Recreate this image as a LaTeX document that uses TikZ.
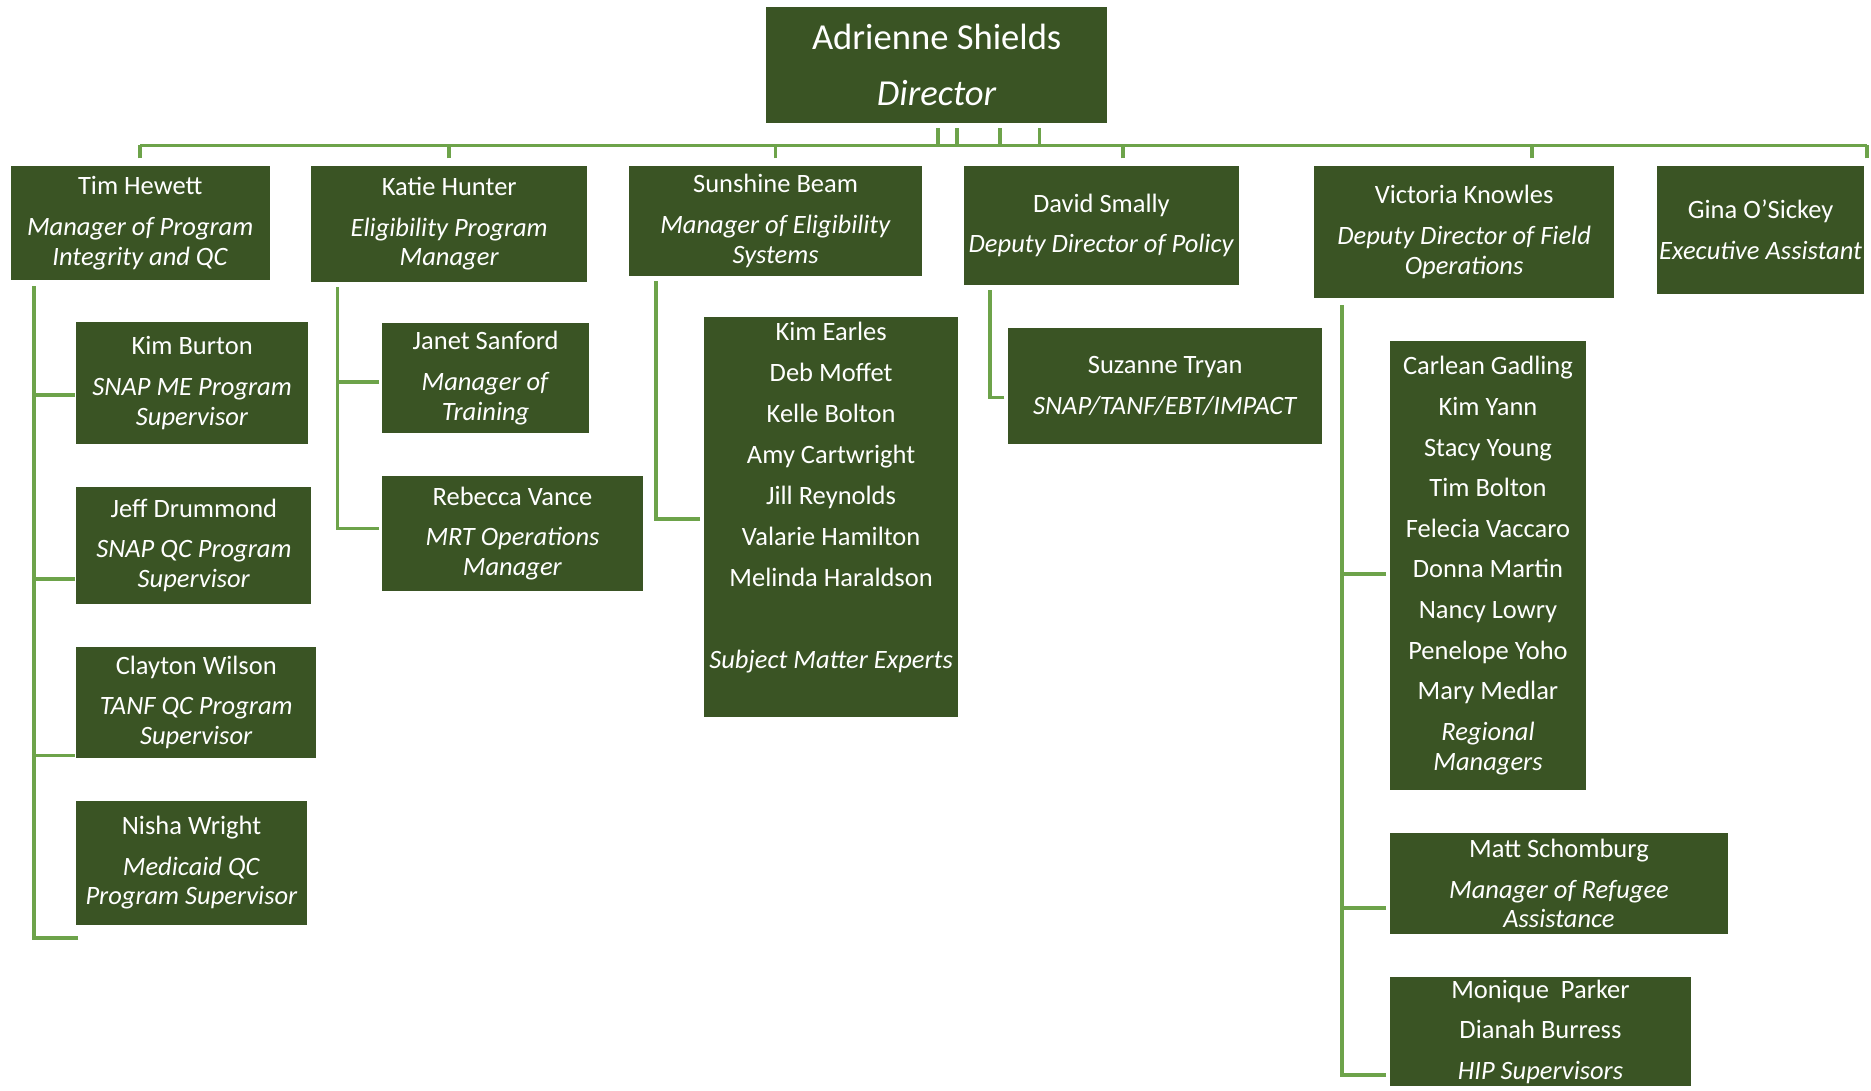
\documentclass[tikz,border=0pt]{standalone}
\usepackage{fontspec}
\setmainfont{Carlito}
\usepackage{tikz}
\definecolor{boxgreen}{HTML}{3A5424}
\definecolor{linkgreen}{HTML}{6DA34A}
\newlength{\pxu}
\setlength{\pxu}{0.5966pt}

\tikzset{
    unit/.style={fill=boxgreen, text=white, inner sep=0pt, align=center,
        font=\fontsize{13.25}{14.9}\selectfont},
    boxsize/.style 2 args={minimum width=#1\pxu, minimum height=#2\pxu},
    link/.style={draw=linkgreen, line width=3\pxu}
}

\begin{document}
\begin{tikzpicture}[x=0.5966pt, y=-0.5966pt]
    \useasboundingbox (0,0) rectangle (1568,914);

    % top
    \node[unit, boxsize={286}{97}, font=\fontsize{18.3}{28}\selectfont] (director) at (785,54.5) {Adrienne Shields\\\textit{Director}};

    % first row
    \node[unit, boxsize={217}{96}] (hewett) at (117.5,187) {Tim Hewett\\[5.4pt]\textit{Manager of Program}\\\textit{Integrity and QC}};
    \node[unit, boxsize={231}{97}] (hunter) at (376.5,187.5) {Katie Hunter\\[5.4pt]\textit{Eligibility Program}\\\textit{Manager}};
    \node[unit, boxsize={246}{92}] (beam) at (650,185) {Sunshine Beam\\[5.4pt]\textit{Manager of Eligibility}\\\textit{Systems}};
    \node[unit, boxsize={230}{100}] (smally) at (923,189) {David Smally\\[5.4pt]\textit{Deputy Director of Policy}};
    \node[unit, boxsize={252}{111}] (knowles) at (1227,194.5) {Victoria Knowles\\[5.4pt]\textit{Deputy Director of Field}\\\textit{Operations}};
    \node[unit, boxsize={173}{107}] (osickey) at (1475.5,192.5) {Gina O'Sickey\\[5.4pt]\textit{Executive Assistant}};

    % under Tim Hewett
    \node[unit, boxsize={194}{102}] (burton) at (161,321) {Kim Burton\\[5.4pt]\textit{SNAP ME Program}\\\textit{Supervisor}};
    \node[unit, boxsize={197}{98}] (drummond) at (162.5,457) {Jeff Drummond\\[5.4pt]\textit{SNAP QC Program}\\\textit{Supervisor}};
    \node[unit, boxsize={201}{93}] (wilson) at (164.5,588.5) {Clayton Wilson\\[5.4pt]\textit{TANF QC Program}\\\textit{Supervisor}};
    \node[unit, boxsize={193}{104}] (wright) at (160.5,723) {Nisha Wright\\[5.4pt]\textit{Medicaid QC}\\\textit{Program Supervisor}};

    % under Katie Hunter
    \node[unit, boxsize={174}{92}] (sanford) at (407,317) {Janet Sanford\\[5.4pt]\textit{Manager of}\\\textit{Training}};
    \node[unit, boxsize={219}{96}] (vance) at (429.5,447) {Rebecca Vance\\[5.4pt]\textit{MRT Operations}\\\textit{Manager}};

    % under Sunshine Beam
    \node[unit, boxsize={213}{335}] (experts) at (696.5,433.5) {Kim Earles\\[5.6pt]Deb Moffet\\[5.6pt]Kelle Bolton\\[5.6pt]Amy Cartwright\\[5.6pt]Jill Reynolds\\[5.6pt]Valarie Hamilton\\[5.6pt]Melinda Haraldson\\[5.6pt]\mbox{}\\[5.6pt]\textit{Subject Matter Experts}\\[2.6pt]\strut};

    % under David Smally
    \node[unit, boxsize={263}{97}] (tryan) at (976.5,323.5) {Suzanne Tryan\\[5.4pt]\textit{SNAP/TANF/EBT/IMPACT}};

    % under Victoria Knowles
    \node[unit, boxsize={164}{376}] (regional) at (1247,474) {Carlean Gadling\\[5.4pt]Kim Yann\\[5.4pt]Stacy Young\\[5.4pt]Tim Bolton\\[5.4pt]Felecia Vaccaro\\[5.4pt]Donna Martin\\[5.4pt]Nancy Lowry\\[5.4pt]Penelope Yoho\\[5.4pt]Mary Medlar\\[5.4pt]\textit{Regional}\\\textit{Managers}};
    \node[unit, boxsize={283}{85}] (schomburg) at (1306.5,740.5) {Matt Schomburg\\[5.4pt]\textit{Manager of Refugee}\\\textit{Assistance}};
    \node[unit, boxsize={252}{91}] (hip) at (1291,864.5) {Monique~~Parker\\[5.4pt]Dianah Burress\\[5.4pt]\textit{HIP Supervisors}};

    % director to first row
    \coordinate (bus) at (0,122);
    \foreach \dx in {1,17,53,86}
        \draw[link] ([xshift=\dx\pxu, yshift=-4\pxu]director.south) -- ++(0,15);
    \draw[link] (hewett.north |- bus) -- ([xshift=2.5\pxu]osickey.north east |- bus);
    \foreach \boss/\dx in {hewett/0, hunter/0, beam/0, smally/18, knowles/57}
        \draw[link] ([xshift=\dx\pxu, yshift=6\pxu]\boss.north) -- ++(0,-11);
    \draw[link] ([xshift=2.5\pxu, yshift=6\pxu]osickey.north east) -- ++(0,-11);

    % branches
    \coordinate (hewettTrunk) at ([xshift=20\pxu, yshift=-4\pxu]hewett.south west);
    \foreach \kid/\dy/\dx in {burton/10/-1, drummond/28/-1, wilson/44.5/-1, wright/63/2}
        \draw[link] ([xshift=\dx\pxu, yshift=-\dy\pxu]\kid.west) -| (hewettTrunk);

    \coordinate (hunterTrunk) at ([xshift=22\pxu, yshift=-4\pxu]hunter.south west);
    \foreach \kid/\dy in {sanford/3, vance/-4}
        \draw[link] ([xshift=-2\pxu, yshift=-\dy\pxu]\kid.west) -| (hunterTrunk);

    \coordinate (beamTrunk) at ([xshift=23\pxu, yshift=-4\pxu]beam.south west);
    \draw[link] ([xshift=-3\pxu, yshift=-1.5\pxu]experts.west) -| (beamTrunk);

    \coordinate (smallyTrunk) at ([xshift=22\pxu, yshift=-4\pxu]smally.south west);
    \draw[link] ([xshift=-3\pxu, yshift=-9.5\pxu]tryan.west) -| (smallyTrunk);

    \coordinate (knowlesTrunk) at ([xshift=24\pxu, yshift=-5\pxu]knowles.south west);
    \foreach \kid/\dy in {regional/7, schomburg/20.5, hip/36.5}
        \draw[link] ([xshift=-3\pxu, yshift=-\dy\pxu]\kid.west) -| (knowlesTrunk);
\end{tikzpicture}
\end{document}
